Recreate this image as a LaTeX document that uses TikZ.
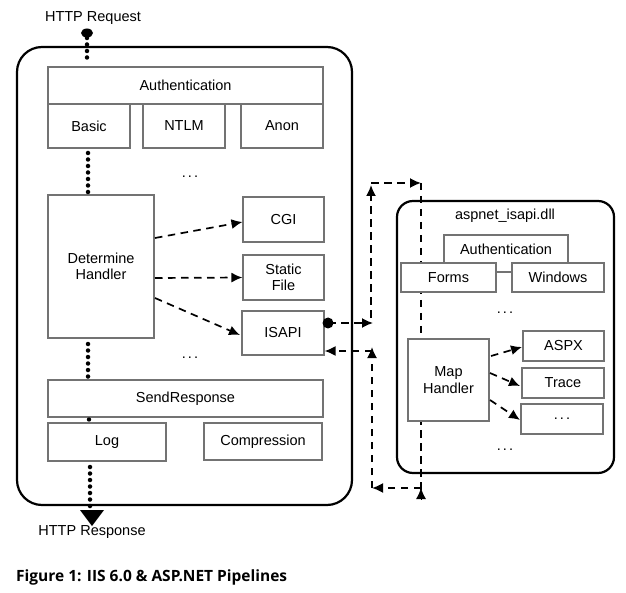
\documentclass[tikz,border=0pt]{standalone}
\usepackage{fontspec}
\setmainfont{Liberation Sans}
\newfontfamily\capfont{Open Sans}
\usetikzlibrary{arrows.meta}
\tikzset{
  box/.style={draw=black!55, line width=1.1pt, fill=white, inner sep=0pt, align=center, font=\fontsize{14.5}{16.5}\selectfont},
  lbl/.style={inner sep=0pt, font=\fontsize{14.5}{16.5}\selectfont},
  bigbox/.style={draw=black, line width=2.2pt},
  dots/.style={line width=4.5pt, line cap=round, dash pattern=on 0pt off 6.5pt},
  tip/.style={-{Latex[length=11pt,width=10pt]}},
  dsh/.style={line width=1.7pt, dash pattern=on 7.5pt off 5.5pt, tip},
  dshn/.style={line width=1.7pt, dash pattern=on 7.5pt off 5.5pt},
}
\newcommand{\ddd}{.\hspace{2.2pt}.\hspace{2.2pt}.}
\begin{document}
\begin{tikzpicture}[x=1pt,y=-1pt]
\useasboundingbox (0,0) rectangle (626,593);
% main IIS box
\draw[bigbox, rounded corners=25pt] (17,47) rectangle (352,505);
\node[lbl] (req) at (93,18) {HTTP Request};
\fill (87,33) ellipse (6 and 4.5);
\coordinate (reqdot) at (87,38);
\node[box, minimum width=275, minimum height=37] (auth) at (185.5,85.5) {Authentication};
\node[box, minimum width=82, minimum height=44] (basic) at (89,126) {Basic};
\node[box, minimum width=82, minimum height=44] (ntlm) at (184,126) {NTLM};
\node[box, minimum width=82, minimum height=44] (anon) at (282,126) {Anon};
\node[lbl] (dots1) at (190,177) {\ddd};
\node[box, minimum width=106, minimum height=143] (det) at (101,266.5) {Determine\\Handler};
\node[box, minimum width=81, minimum height=45] (cgi) at (283.5,219.5) {CGI};
\node[box, minimum width=81, minimum height=45] (static) at (283.5,277.5) {Static\\File};
\node[box, minimum width=82, minimum height=44] (isapi) at (283,333) {ISAPI};
\node[lbl] (dots2) at (190,358) {\ddd};
\node[box, minimum width=275, minimum height=37] (send) at (185.5,398.5) {SendResponse};
\node[box, minimum width=118, minimum height=38] (log) at (107,442) {Log};
\node[box, minimum width=118, minimum height=37] (comp) at (263,441.5) {Compression};
% dotted flow
\draw[dots] (reqdot) -- (87,63);
\draw[dots] (88,153) -- (88,195);
\draw[dots] (88,344) -- (88,381);
\fill (89,419.5) circle (2.2);
\draw[dots] (90,467) -- (90,506);
\coordinate (tri) at (92,511);
\fill (80,510) -- (104,510) -- (92,526) -- cycle;
\node[lbl] (resp) at (92,532) {HTTP Response};
% handler arrows
\draw[dsh] (155,238) -- (cgi.west |- 0,222);
\draw[dsh] (155,278) -- (static.west);
\draw[dsh] (155,298) -- (240,335);
% aspnet box
\draw[bigbox, rounded corners=16pt] (397,201) rectangle (614,473);
% loop connectors
\coordinate (p0) at (328,323);
\coordinate (p1) at (373,323);
\coordinate (p2) at (371,318);
\coordinate (p3) at (371,183);
\coordinate (p4) at (421,183);
\coordinate (p5) at (421,488);
\coordinate (p6) at (372,488);
\coordinate (p7) at (372,351);
\fill (p0) circle (5.5);
\draw[dsh] (p0) -- (p1);
\draw[dsh] (p2) -- ([yshift=-2pt]p3);
\draw[dsh] (p3) -- (p4);
\draw[dshn] (p4) -- ([yshift=-8pt]p5);
\draw[tip, line width=1pt] ([yshift=-11pt]p5) -- (p5);
\draw[dsh] (p5) -- (p6);
\draw[dsh] (p6) -- ([yshift=4pt]p7);
\draw[dsh] (p7) -- (isapi.east |- p7);
% aspnet contents
\node[lbl] (title) at (505,216) {aspnet\_isapi.dll};
\node[box, minimum width=124, minimum height=37] (auth2) at (506,253.5) {};
\node[lbl] (auth2t) at (506,249) {Authentication};
\node[box, minimum width=95, minimum height=29] (forms) at (448.5,277.5) {Forms};
\node[box, minimum width=92, minimum height=29] (windows) at (558,277.5) {Windows};
\node[lbl] (dots3) at (505,313) {\ddd};
\node[box, minimum width=81, minimum height=82] (map) at (448.5,380) {Map\\Handler};
\node[box, minimum width=81, minimum height=30] (aspx) at (563.5,346) {ASPX};
\node[box, minimum width=82, minimum height=30] (trace) at (563,383) {Trace};
\node[box, minimum width=82, minimum height=30] (more) at (562,419) {\ddd};
\node[lbl] (dots4) at (505,450) {\ddd};
\draw[dsh] (491,356) -- (522,347);
\draw[dsh] (490,373) -- (520,386);
\draw[dsh] (490,400) -- (520,420);
% caption
\node[anchor=west, inner sep=0pt, font=\capfont\bfseries\fontsize{15.5}{17}\selectfont] (cap) at (16,577) {Figure 1: IIS 6.0 \& ASP.NET Pipelines};
\end{tikzpicture}
\end{document}
